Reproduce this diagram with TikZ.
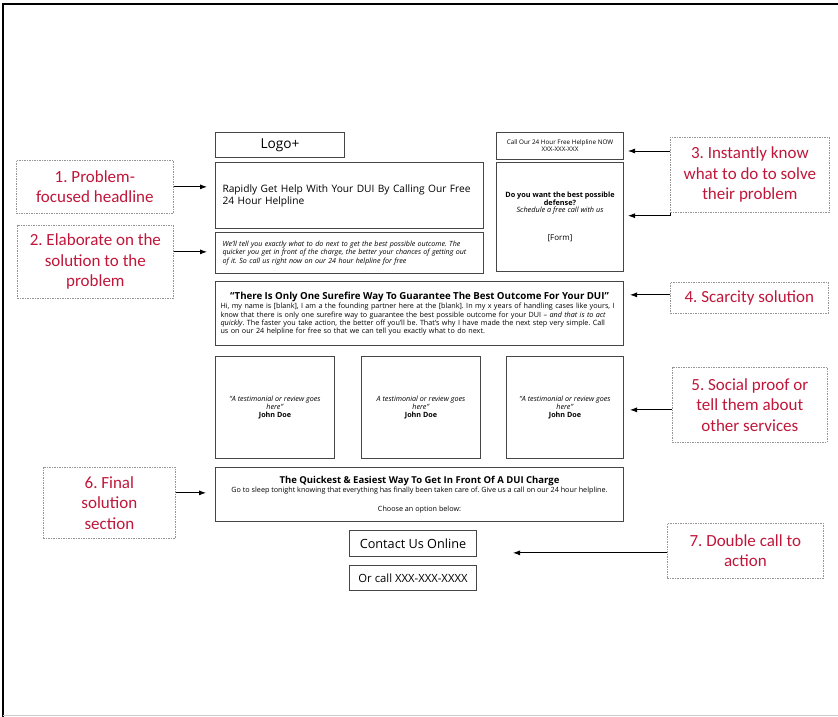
\documentclass[tikz,border=0pt]{standalone}
\usepackage{fontspec}
\setmainfont{Open Sans}
\newfontfamily\annfont{Carlito}
\usetikzlibrary{arrows.meta}
\definecolor{boxgray}{RGB}{70,70,70}
\definecolor{dashgray}{RGB}{150,150,150}
\definecolor{annred}{RGB}{192,22,58}
\newcommand{\fs}[2]{\fontsize{#1}{#2}\selectfont}
\frenchspacing
\tikzset{
  box/.style={draw=boxgray, line width=1pt, inner sep=0pt, anchor=north west, align=center},
  ann/.style={draw=dashgray, line width=0.7pt, dash pattern=on 1.5pt off 1pt, inner sep=0pt,
    anchor=north west, align=center, text=annred, font=\annfont\fs{17}{20.5}},
  arr/.style={-{Latex[length=7pt,width=5pt]}, line width=0.8pt, black}
}
\begin{document}
\begin{tikzpicture}[x=1pt,y=-1pt]
\useasboundingbox (0,0) rectangle (838,717);
% outer frame
\draw[line width=1.5pt, black] (3,717) coordinate (fl) -- (3,4) coordinate (ftl) -- (838,4) coordinate (ftr);
\draw[line width=1pt, black!20] (3,715.5) coordinate (fbl) -- (838,715.5) coordinate (fbr);

% page boxes
\node[box, minimum width=129pt, minimum height=25pt, font=\fs{13.7}{15}] (logo) at (215,132) {Logo+};
\node[box, minimum width=268pt, minimum height=66pt, text width=254pt, align=left, font=\fs{10.2}{12}] (head) at (215,162)
  {Rapidly Get Help With Your DUI By Calling Our Free\\24 Hour Helpline};
\node[box, minimum width=268pt, minimum height=41pt, text width=254pt, align=left, font=\itshape\fs{7.1}{8.6}] (sub) at (215,232)
  {We'll tell you exactly what to do next to get the best possible outcome. The\\quicker you get in front of the charge, the better your chances of getting out\\of it. So call us right now on our 24 hour helpline for free};
\node[box, minimum width=127pt, minimum height=27pt, font=\fs{6.3}{6}] (call) at (496,132)
  {Call Our 24 Hour Free Helpline NOW\\XXX-XXX-XXX};
\node[box, minimum width=127pt, minimum height=109pt, font=\fs{7.3}{6.5}] (form) at (496,162)
  {\textbf{Do you want the best possible}\\\textbf{defense?}\\\textit{Schedule a free call with us}\\[20pt]{\fs{8}{8}[Form]}};
\node[box, minimum width=408pt, minimum height=64pt, text width=398pt, align=left, font=\fs{7.2}{6.9}] (scar) at (215,281)
  {\makebox[\linewidth]{\bfseries\fs{9.7}{10}“There Is Only One Surefire Way To Guarantee The Best Outcome For Your DUI”}\\[1pt]
  Hi, my name is [blank], I am a the founding partner here at the [blank]. In my x years of handling cases like yours, I\\
  know that there is only one surefire way to guarantee the best possible outcome for your DUI -- \textit{and that is to act}\\
  \textit{quickly}. The faster you take action, the better off you'll be. That's why I have made the next step very simple. Call\\
  us on our 24 helpline for free so that we can tell you exactly what to do next.};
\node[box, minimum width=119pt, minimum height=102pt, font=\fs{7.2}{8}] (t1) at (215,356)
  {\textit{“A testimonial or review goes}\\\textit{here”}\\\textbf{John Doe}};
\node[box, minimum width=119pt, minimum height=102pt, font=\fs{7.2}{8}] (t2) at (361,356)
  {\textit{A testimonial or review goes}\\\textit{here”}\\\textbf{John Doe}};
\node[box, minimum width=117pt, minimum height=102pt, font=\fs{7.2}{8}] (t3) at (506,356)
  {\textit{“A testimonial or review goes}\\\textit{here”}\\\textbf{John Doe}};
\node[box, minimum width=408pt, minimum height=54pt, font=\fs{7.2}{9}] (fin) at (215,467)
  {{\bfseries\fs{9.5}{9}The Quickest \& Easiest Way To Get In Front Of A DUI Charge}\\
  Go to sleep tonight knowing that everything has finally been taken care of. Give us a call on our 24 hour helpline.\\[10pt]
  Choose an option below:};
\node[box, minimum width=127pt, minimum height=26pt, font=\fs{12.7}{13}] (contact) at (349,530) {Contact Us Online};
\node[box, minimum width=127pt, minimum height=25pt, font=\fs{11.3}{11}] (orcall) at (349,565) {Or call XXX-XXX-XXXX};

% annotations
\node[ann, minimum width=157pt, minimum height=53pt] (a1) at (16,160) {1. Problem-\\focused headline};
\node[ann, minimum width=156pt, minimum height=73pt] (a2) at (17,225) {2. Elaborate on the\\solution to the\\problem};
\node[ann, minimum width=159pt, minimum height=75pt] (a3) at (670,137) {3. Instantly know\\what to do to solve\\their problem};
\node[ann, minimum width=158pt, minimum height=31pt] (a4) at (670,282) {4. Scarcity solution};
\node[ann, minimum width=155pt, minimum height=75pt] (a5) at (672,367) {5. Social proof or\\tell them about\\other services};
\node[ann, minimum width=132pt, minimum height=71pt] (a6) at (43,467) {6. Final\\solution\\section};
\node[ann, minimum width=156pt, minimum height=55pt] (a7) at (667,523) {7. Double call to\\action};

% connectors
\draw[arr, shorten >=8pt] (a1.east) -- (a1.east -| head.west);
\draw[arr, shorten >=8pt] ([yshift=10pt]a2.east) -- ([yshift=10pt]a2.east -| sub.west);
\draw[arr, shorten >=4pt] ([yshift=-14pt]a3.north west) -- ([yshift=-14pt]a3.north west -| call.east);
\draw[line width=0.8pt] (a3.south west) -- ++(0,3) coordinate (a3b);
\draw[arr, shorten >=4pt] (a3b) -- (a3b -| form.east);
\draw[arr, shorten >=6pt] ([yshift=3pt]a4.west) -- ([yshift=3pt]a4.west -| scar.east);
\draw[arr, shorten >=6pt] ([yshift=-5pt]a5.west) -- ([yshift=-5pt]a5.west -| t3.east);
\draw[arr, shorten >=9pt] ([yshift=10pt]a6.east) -- ([yshift=10pt]a6.east -| fin.west);
\draw[arr, shorten >=36pt] ([yshift=-2pt]a7.west) -- ([yshift=-2pt]a7.west -| contact.east);
\end{tikzpicture}
\end{document}
